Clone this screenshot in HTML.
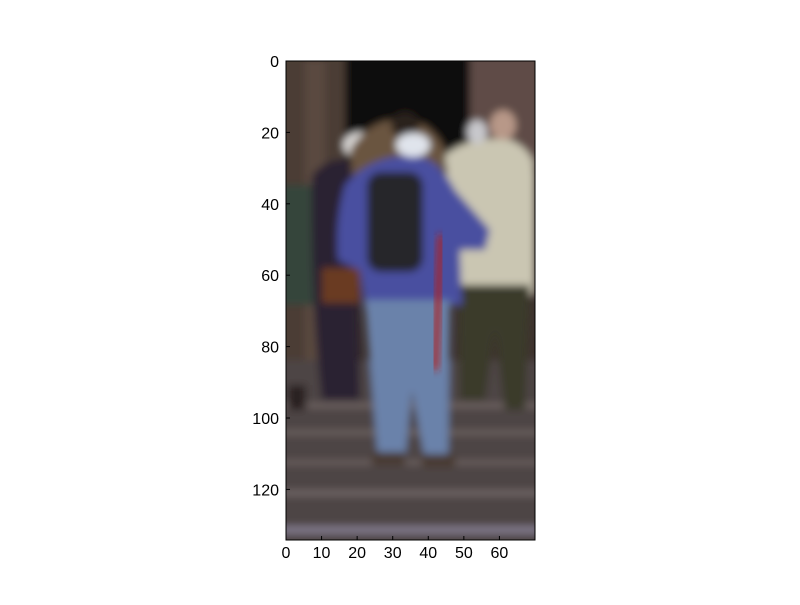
<!DOCTYPE html>
<html><head><meta charset="utf-8"><style>
body{margin:0;background:#fff;width:800px;height:600px;overflow:hidden;font-family:"Liberation Sans",sans-serif}
</style></head><body>
<svg width="800" height="600">
<defs>
<filter id="b" x="-20%" y="-20%" width="140%" height="140%"><feGaussianBlur stdDeviation="4"/></filter>
<clipPath id="c"><rect x="286" y="61" width="249" height="479"/></clipPath>
</defs>
<g clip-path="url(#c)">
<rect x="286" y="61" width="249" height="479" fill="#3e322e"/>
<g filter="url(#b)">
<rect x="280" y="55" width="68" height="330" fill="#4c3c36"/>
<rect x="305" y="60" width="20" height="300" fill="#5a4840"/>
<rect x="345" y="55" width="125" height="110" fill="#0e0a09"/>
<rect x="470" y="55" width="70" height="110" fill="#5e4c46"/>
<rect x="280" y="360" width="260" height="190" fill="#4e4444"/>
<rect x="280" y="403" width="260" height="5" fill="#6e6462"/>
<rect x="280" y="430" width="260" height="5" fill="#6c6260"/>
<rect x="280" y="460" width="260" height="5" fill="#6a605e"/>
<rect x="280" y="490" width="260" height="6" fill="#706666"/>
<rect x="280" y="526" width="260" height="8" fill="#80788a"/>
<rect x="280" y="185" width="35" height="120" fill="#34443a"/>
<path d="M312 175 Q335 150 355 165 L360 400 L322 400 Q310 300 312 175Z" fill="#2a2430"/>
<rect x="322" y="268" width="38" height="35" fill="#6a3a20"/>
<ellipse cx="360" cy="145" rx="17" ry="13" fill="#d8d6d4"/>
<path d="M350 150 Q370 118 400 120 Q430 118 445 150 L440 200 L355 200Z" fill="#6a5540"/>
<ellipse cx="405" cy="125" rx="14" ry="13" fill="#2a201c"/>
<path d="M445 155 Q470 135 510 140 Q535 150 535 175 L535 295 L455 295 Z" fill="#cac6b2"/>
<ellipse cx="503" cy="125" rx="13" ry="15" fill="#b89888"/>
<ellipse cx="477" cy="132" rx="10" ry="12" fill="#c8c8cc"/>
<path d="M458 285 L530 285 L525 410 L505 410 L495 330 L485 400 L460 400Z" fill="#3a3a2c"/>
<path d="M345 185 Q370 155 415 155 Q440 160 455 190 L490 230 L485 250 L460 250 L462 305 L365 310 L360 270 L338 260 Q335 220 345 185Z" fill="#4a50a0"/>
<rect x="367" y="172" width="56" height="100" fill="#26262c" rx="14"/>
<ellipse cx="413" cy="145" rx="17" ry="12" fill="#e0e4ec"/>
<path d="M365 300 L450 300 L448 460 L425 460 L412 390 L405 460 L378 460Z" fill="#6a82aa"/>
<rect x="372" y="452" width="33" height="13" fill="#4a3a30"/>
<rect x="422" y="454" width="33" height="13" fill="#4a3a30"/>
<rect x="288" y="385" width="18" height="25" fill="#2a2220"/>
</g>
<line x1="441" y1="235" x2="435" y2="370" stroke="#b02424" stroke-width="6" filter="url(#b)"/>
</g>
<rect x="286" y="61" width="249" height="479" fill="none" stroke="#000" stroke-width="1"/>
<g id="ticks" font-size="16" fill="#000"></g>
</svg>
<script>
const xTicks=[0,10,20,30,40,50,60];
const yTicks=[0,20,40,60,80,100,120];
const x0=286,y0=61,sx=3.557,sy=3.57;
const g=document.getElementById('ticks');
const ns='http://www.w3.org/2000/svg';
xTicks.forEach(v=>{
 const x=x0+v*sx;
 const l=document.createElementNS(ns,'line');
 l.setAttribute('x1',x);l.setAttribute('x2',x);l.setAttribute('y1',540);l.setAttribute('y2',536);l.setAttribute('stroke','#000');
 
 
 g.appendChild(l);
 const t=document.createElementNS(ns,'text');
 t.setAttribute('x',x);t.setAttribute('y',558);t.setAttribute('text-anchor','middle');t.textContent=v;
 
 
 g.appendChild(t);
});
yTicks.forEach(v=>{
 const y=y0+v*sy;
 const l=document.createElementNS(ns,'line');
 l.setAttribute('x1',286);l.setAttribute('x2',290);l.setAttribute('y1',y);l.setAttribute('y2',y);l.setAttribute('stroke','#000');
 
 
 g.appendChild(l);
 const t=document.createElementNS(ns,'text');
 t.setAttribute('x',279);t.setAttribute('y',y+6);t.setAttribute('text-anchor','end');t.textContent=v;
 
 
 g.appendChild(t);
});
</script>
</body></html>
